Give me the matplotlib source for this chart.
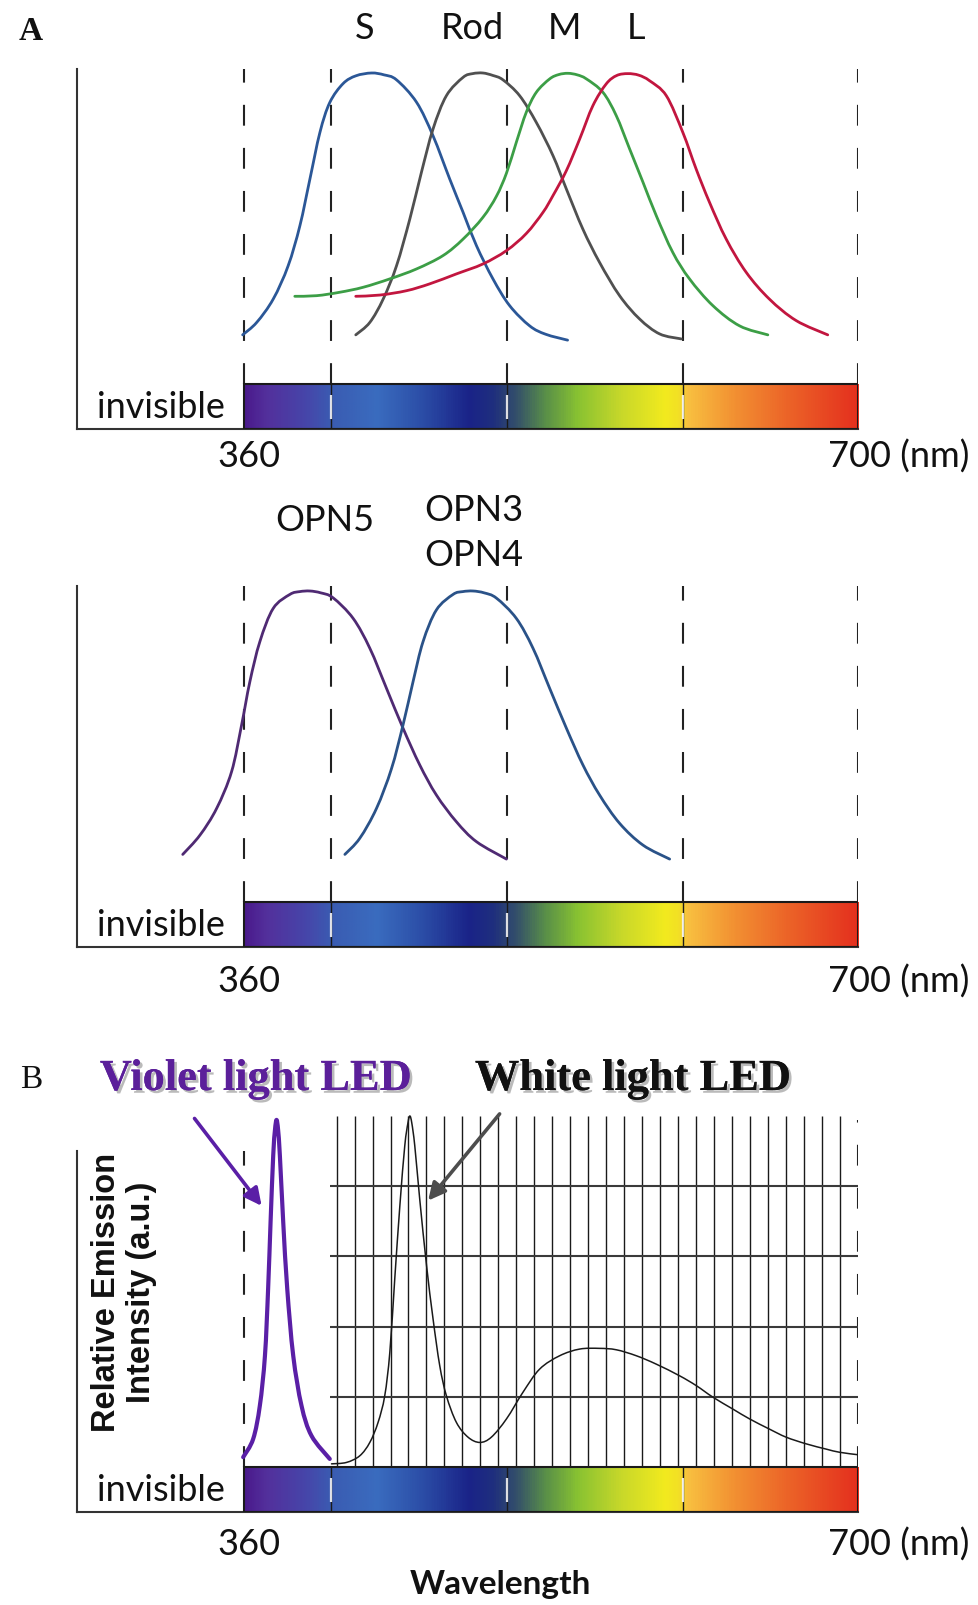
import numpy as np
import matplotlib.pyplot as plt
from matplotlib import patheffects
from matplotlib.colors import LinearSegmentedColormap
from matplotlib.patches import Rectangle, PathPatch
from matplotlib.path import Path

plt.rcParams['lines.scale_dashes'] = False
SANS = ['Lato', 'DejaVu Sans']

# ---------------- data (wavelength in nm, response in % of peak) ----------------
s_nm = [349.5, 357.5, 366.9, 375.4, 382.1, 387.8, 393.5, 399.1, 406.7, 414.0, 422.9, 430.0, 437.1,
        448.5, 457.9, 467.4, 475.0, 482.6, 492.0, 501.5, 512.9, 522.0, 534.5]
s_val = [15.8, 19.8, 27.3, 38.0, 50.9, 65.9, 80.9, 90.5, 96.6, 99.1, 100, 99.4, 97.8,
         90.6, 79.8, 65.9, 55.2, 44.5, 33.8, 25.2, 18.7, 16.0, 14.1]

rod_nm = [413.9, 421.9, 429.5, 437.1, 444.7, 451.3, 457.9, 465.5, 475.0, 480.5, 486.3, 492.0, 497.7,
          507.2, 516.7, 526.2, 533.8, 543.2, 552.7, 564.1, 575.5, 586.9, 599.2]
rod_val = [15.8, 19.8, 27.3, 38.0, 53.1, 68.1, 82.0, 92.7, 98.6, 99.8, 100, 99.2, 97.8,
           92.7, 84.1, 73.4, 62.7, 49.8, 39.1, 28.4, 20.9, 16.1, 14.5]

m_nm = [379.2, 391.6, 404.8, 418.1, 433.3, 448.5, 463.6, 475.0, 486.3, 494.0, 499.7, 505.3, 511.0,
        516.7, 524.3, 529.5, 534.7, 540.0, 545.2, 554.6, 562.2, 569.8, 577.4, 585.0, 594.4, 603.9,
        617.2, 632.4, 648.5]
m_val = [28.2, 28.4, 29.5, 31.1, 33.8, 37.0, 41.3, 46.6, 53.6, 60.4, 67.8, 77.7, 87.4,
         93.8, 98.1, 99.5, 99.9, 99.4, 98.1, 93.8, 86.3, 75.6, 64.9, 54.1, 42.3, 33.8,
         25.2, 18.7, 15.8]

l_nm = [413.9, 427.6, 442.8, 456.0, 471.2, 486.3, 499.7, 511.0, 520.5, 526.2, 533.8, 541.4, 548.9,
        556.5, 562.5, 568.8, 575.0, 581.2, 590.7, 600.1, 607.7, 615.3, 624.8, 636.2, 649.4, 664.6,
        682.6]
l_val = [28.2, 28.6, 30.0, 32.2, 35.4, 38.6, 42.9, 48.4, 55.2, 60.6, 68.6, 78.8, 89.5,
         96.5, 99.2, 99.8, 99.3, 97.5, 92.7, 80.9, 69.1, 58.4, 46.6, 35.9, 27.3, 20.4,
         15.8]

opn5_nm = [315.4, 325.2, 334.7, 343.2, 348.9, 353.6, 359.3, 366.9, 376.4, 382.0, 387.8, 394.0, 401.0,
           412.4, 421.9, 431.4, 440.8, 450.3, 459.8, 471.2, 482.6, 499.7]
opn5_val = [15.3, 21.5, 30.1, 41.9, 56.9, 70.8, 83.7, 94.4, 98.9, 99.8, 100, 99.4, 97.8,
            91.2, 81.6, 68.7, 55.9, 44.1, 34.4, 25.8, 19.4, 13.8]

opn34_nm = [407.7, 416.2, 425.7, 434.2, 440.8, 446.5, 452.2, 459.8, 469.3, 474.8, 480.7, 487.0, 494.0,
            505.3, 514.8, 524.3, 533.8, 543.2, 552.7, 564.1, 577.4, 592.6]
opn34_val = [15.3, 20.5, 30.1, 42.8, 56.9, 70.8, 83.7, 93.9, 98.9, 99.8, 100, 99.4, 97.7,
             91.2, 81.6, 68.7, 55.9, 44.1, 34.4, 25.3, 18.3, 13.8]

violet_nm = [349.8, 355.5, 359.3, 362.2, 364.0, 365.4, 366.9, 367.9, 368.8, 369.7, 370.7, 372.6,
             374.9, 378.3, 383.0, 388.7, 399.1]
violet_val = [2.8, 8.0, 17.5, 31.7, 50.7, 69.8, 88.7, 96.0, 98.9, 96.0, 88.7, 69.8,
              50.7, 31.7, 17.5, 8.9, 2.3]

white_nm = [400.1, 408.6, 416.2, 421.9, 426.6, 430.4, 433.3, 436.1, 439.0, 441.8, 443.6, 444.7, 445.8,
            447.5, 450.3, 454.2, 457.9, 461.7, 465.5, 471.2, 477.8, 484.5, 491.1, 499.7, 509.1,
            518.6, 530.0, 541.4, 552.7, 562.2, 573.6, 585.0, 598.2, 607.7, 617.2, 628.6, 638.1,
            649.4, 658.9, 670.3, 681.7, 689.3, 699.7]
white_val = [0.9, 1.3, 3.2, 7.0, 12.7, 20.3, 32.7, 53.6, 74.4, 91.5, 98.0, 100, 98.0,
             91.5, 76.4, 57.4, 42.2, 28.9, 20.3, 12.7, 8.5, 7.0, 8.5, 13.7, 21.3,
             27.9, 31.7, 33.6, 33.8, 33.4, 31.7, 29.3, 26.0, 23.2, 19.9, 16.5, 13.7,
             10.8, 8.5, 6.6, 5.1, 4.2, 3.5]

dash_nm = [350, 400, 500, 600, 700]
spectrum_stops = [(350, '#4a1a8c'), (362, '#53309c'), (385, '#4646aa'), (400, '#3a5cb2'),
                  (425, '#3a6cbf'), (450, '#2c4fa8'), (478, '#1a2388'), (492, '#1f2f7e'),
                  (505, '#34506a'), (522, '#5a9048'), (540, '#88c232'), (565, '#c8d82a'),
                  (590, '#f2ea1e'), (598, '#f2e025'), (603, '#f8c040'), (630, '#f29032'),
                  (660, '#ec6428'), (700, '#e4301e')]

# ---------------- layout ----------------
W, H = 979, 1606
XMIN, XMAX = 255.2, 700
fig = plt.figure(figsize=(W / 100, H / 100), dpi=100)

spec_cmap = LinearSegmentedColormap.from_list(
    'spec', [((nm - 350) / 350, c) for nm, c in spectrum_stops])


def smooth_curve(ax, xs, ys, color, lw, z=4):
    """Draw a smooth curve through the points (Catmull-Rom as cubic Bezier)."""
    p = np.column_stack([xs, ys]).astype(float)
    verts, codes = [p[0]], [Path.MOVETO]
    n = len(p)
    for i in range(n - 1):
        p0 = p[i - 1] if i > 0 else p[i]
        p3 = p[i + 2] if i + 2 < n else p[i + 1]
        c1 = p[i] + (p[i + 1] - p0) / 6
        c2 = p[i + 1] - (p3 - p[i]) / 6
        verts += [c1, c2, p[i + 1]]
        codes += [Path.CURVE4] * 3
    ax.add_patch(PathPatch(Path(verts, codes), fill=False, ec=color, lw=lw,
                           capstyle='round', joinstyle='round', zorder=z))


def make_panel(top, bartop, bottom, scale, spine_top):
    ax = fig.add_axes([77 / W, 1 - bottom / H, (858.3 - 77) / W, (bottom - top) / H])
    bar_h = (bottom - bartop) / scale
    ax.set_xlim(XMIN, XMAX)
    ax.set_ylim(-bar_h, (bartop - top) / scale)
    ax.patch.set_alpha(0)
    for side in ['top', 'right']:
        ax.spines[side].set_visible(False)
    for side in ['left', 'bottom']:
        ax.spines[side].set_linewidth(1.5)
        ax.spines[side].set_color('#333333')
    ax.spines['left'].set_bounds(-bar_h, spine_top)
    ax.set_xticks([])
    ax.set_yticks([])
    grad = np.linspace(0, 1, 600).reshape(1, -1)
    ax.imshow(grad, cmap=spec_cmap, aspect='auto', extent=[350, 700, -bar_h, 0], zorder=1)
    ax.add_patch(Rectangle((350, -bar_h), 350, bar_h, fill=False, ec='#1a1a1a', lw=1.5, zorder=3))
    ax.vlines(dash_nm[1:4], -bar_h, 0, colors='#1a1a1a', lw=1.0, zorder=2)
    ax.vlines(dash_nm[1:4], -bar_h * 0.78, -bar_h * 0.25, colors='white', lw=1.6, alpha=0.85, zorder=2)
    ax.text(303, -bar_h / 2, 'invisible', ha='center', va='center', fontsize=26,
            family=SANS, color='#111111')
    return ax, bar_h


def edge_labels(ax, y):
    ax.text(353.1, y, '360', ha='center', va='center', fontsize=26, family=SANS, color='#111111')
    ax.text(683.0, y, '700 (nm)', ha='left', va='center', fontsize=26, family=SANS,
            color='#111111', clip_on=False)


dash_style = (0, (15, 16))

# ---------------- panel A, top ----------------
ax1, bh1 = make_panel(50, 385, 430, 3.11, 101.3)
ax1.vlines(dash_nm, 0, 101.3, colors='#222222', lw=1.5, linestyles=[dash_style], zorder=2)
smooth_curve(ax1, s_nm, s_val, '#2b5797', 2.0)
smooth_curve(ax1, rod_nm, rod_val, '#505050', 2.0)
smooth_curve(ax1, m_nm, m_val, '#3c9e46', 2.0)
smooth_curve(ax1, l_nm, l_val, '#c2163f', 2.0)
for lab, xx in zip(['S', 'Rod', 'M', 'L'], [418.8, 480.5, 532.8, 573.2]):
    ax1.text(xx, 114.5, lab, ha='center', va='center', fontsize=26, family=SANS, color='#111111')
edge_labels(ax1, -23.0)

# ---------------- panel A, bottom ----------------
ax2, bh2 = make_panel(567, 903, 948, 3.11, 101.6)
ax2.vlines(dash_nm, 0, 101.6, colors='#222222', lw=1.5, linestyles=[dash_style], zorder=2)
smooth_curve(ax2, opn5_nm, opn5_val, '#4f2a73', 2.0)
smooth_curve(ax2, opn34_nm, opn34_val, '#2a5288', 2.0)
ax2.text(396.3, 123.0, 'OPN5', ha='center', va='center', fontsize=26, family=SANS, color='#111111')
ax2.text(481.1, 126.2, 'OPN3', ha='center', va='center', fontsize=26, family=SANS, color='#111111')
ax2.text(481.1, 111.7, 'OPN4', ha='center', va='center', fontsize=26, family=SANS, color='#111111')
edge_labels(ax2, -25.3)

# ---------------- panel B ----------------
ax3, bh3 = make_panel(1100, 1468, 1513, 3.51, 90.0)
ax3.vlines([350], 0, 90.0, colors='#222222', lw=1.5, linestyles=[dash_style], zorder=2)
ax3.vlines([700], 0, 98.9, colors='#222222', lw=1.5, linestyles=[dash_style], zorder=2)
grid_x = np.linspace(403, 689.4, 29)
ax3.vlines(grid_x, 0, 100, colors='#1a1a1a', lw=1.0, zorder=2)
ax3.hlines([20, 40, 60, 80], 399.1, 700, colors='#3a3a3a', lw=1.5, zorder=2)
smooth_curve(ax3, white_nm, white_val, '#1a1a1a', 1.1)
smooth_curve(ax3, violet_nm, violet_val, '#5a1fa6', 3.0)
ax3.annotate('', xy=(360.3, 74.4), xytext=(322.1, 99.3),
             arrowprops=dict(arrowstyle='-|>', color='#5a1fa6', lw=2.6, mutation_scale=26,
                             shrinkA=0, shrinkB=0), zorder=5)
ax3.annotate('', xy=(455.1, 75.9), xytext=(495.8, 100.6),
             arrowprops=dict(arrowstyle='-|>', color='#4d4d4d', lw=2.6, mutation_scale=26,
                             shrinkA=0, shrinkB=0), zorder=5, annotation_clip=False)
edge_labels(ax3, -21.8)

# ---------------- figure texts ----------------
fig.text(31 / W, 1 - 31 / H, 'A', ha='center', va='center', fontsize=24,
         family='Liberation Serif', weight='bold', color='#111111')
fig.text(31 / W, 1 - 1080 / H, 'B', ha='center', va='center', fontsize=24,
         family='Liberation Serif', color='#111111')
shadow = [patheffects.withSimplePatchShadow(offset=(2, -2), shadow_rgbFace='#777777', alpha=0.5),
          patheffects.Normal()]
fig.text(256 / W, 1 - 1080 / H, 'Violet light LED', ha='center', va='center', fontsize=32,
         family='Liberation Serif', weight='bold', color='#5b1f9a', path_effects=shadow)
fig.text(633 / W, 1 - 1080 / H, 'White light LED', ha='center', va='center', fontsize=32,
         family='Liberation Serif', weight='bold', color='#111111', path_effects=shadow)
fig.text(124 / W, 1 - 1292 / H, 'Relative Emission\nIntensity (a.u.)', rotation=90,
         ha='center', va='center', multialignment='center', fontsize=23.5,
         family='Liberation Sans', weight='bold', color='#111111')
fig.text(500 / W, 1 - 1585 / H, 'Wavelength', ha='center', va='center', fontsize=24,
         family=SANS, weight='bold', color='#111111')

fig.savefig('out.png', dpi=100)
plt.close(fig)
